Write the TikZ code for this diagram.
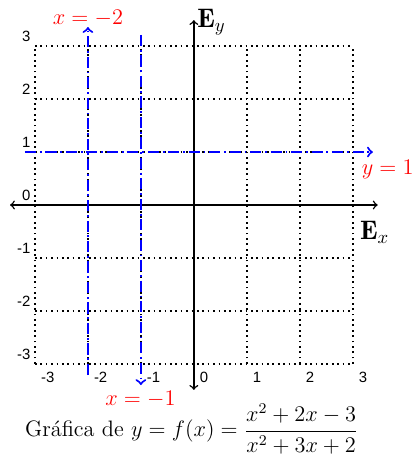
\documentclass[tikz,border=0pt]{standalone}
\usepackage{fontspec}
\usepackage{amsmath}
\newfontfamily\ticksans{Liberation Sans}
\usetikzlibrary{arrows}
\begin{document}
\begin{tikzpicture}[x=1cm,y=1cm,
  gridline/.style={dotted, line width=0.9pt},
  axisline/.style={<->, >=to, line width=0.8pt, black},
  asym/.style={blue, line width=1.1pt, dash pattern=on 6pt off 2pt on 1pt off 2pt, >=to},
  asymlabel/.style={red, font=\large, anchor=base, inner sep=0pt},
  ticklabel/.style={font=\ticksans\fontsize{8}{9}\selectfont, inner sep=0.8pt},
  elabel/.style={font=\Large, anchor=base west, inner sep=0pt}]
\useasboundingbox (-3.66,-4.72) rectangle (4.13,3.87);
% grid
\foreach \k in {-3,...,3} {
  \draw[gridline] (\k,-3) -- (\k,3);
  \draw[gridline] (-3,\k) -- (3,\k);
}
% tick labels
\foreach \k in {-3,...,3} {
  \node[ticklabel, anchor=south east] (ty\k) at (-3.05,\k+0.05) {\k};
  \node[ticklabel, anchor=north west] (tx\k) at (\k+0.08,-3.12) {\k};
}
% axes
\coordinate (xl) at (-3.47,0);
\coordinate (xr) at (3.47,0);
\coordinate (yb) at (0,-3.49);
\coordinate (yt) at (0,3.49);
\draw[axisline] (xl) -- (xr);
\draw[axisline] (yb) -- (yt);
\node[elabel] (Ex) at (3.13,-0.66) {$\mathbf{E}_x$};
\node[elabel] (Ey) at (0.06,3.36) {$\mathbf{E}_y$};
% asymptotes
\coordinate (a2b) at (-2,-3.21);
\coordinate (a2t) at (-2,3.36);
\coordinate (a1t) at (-1,3.21);
\coordinate (a1b) at (-1,-3.40);
\coordinate (h1l) at (-3.19,1);
\coordinate (h1r) at (3.38,1);
\draw[asym,->] (a2b) -- (a2t);
\draw[asym,->] (a1t) -- (a1b);
\draw[asym,->] (h1l) -- (h1r);
\node[asymlabel] (lx2) at (-2,3.40) {$x=-2$};
\node[asymlabel] (lx1) at (-1.01,-3.78) {$x=-1$};
\node[asymlabel] (ly1) at (3.66,0.585) {$y=1$};
% caption
\node[anchor=base, inner sep=0pt, font=\large] (cap) at (-0.04,-4.38)
  {Gráfica de $y=f(x)=\dfrac{x^2+2x-3}{x^2+3x+2}$};
\end{tikzpicture}
\end{document}
